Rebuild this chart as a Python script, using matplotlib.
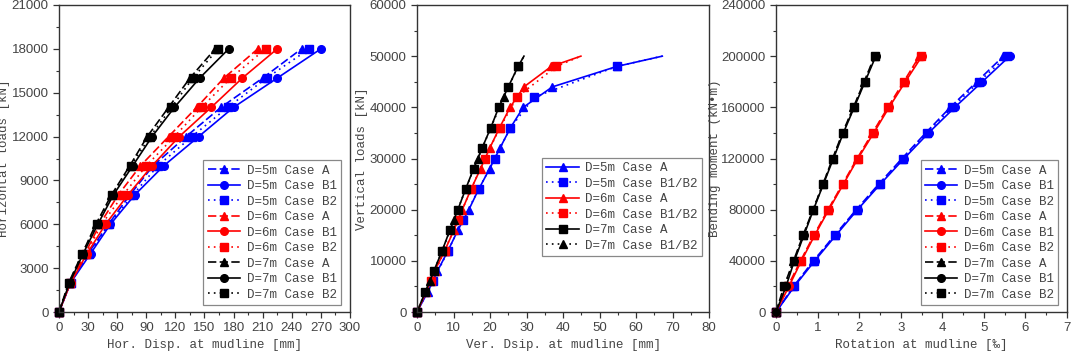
import matplotlib.pyplot as plt
from matplotlib.ticker import MultipleLocator

# ---- panel 1: horizontal loads vs horizontal displacement ----
h_loads = [0, 2000, 4000, 6000, 8000, 10000, 12000, 14000, 16000, 18000]
h_5m_a = [0, 12, 30, 51, 73, 97, 131, 167, 210, 250]
h_5m_b1 = [0, 12, 32.6, 53, 78, 108, 144, 180, 225, 270]
h_5m_b2 = [0, 12, 31, 52, 76, 102, 137, 174, 214, 258]
h_6m_a = [0, 11, 27, 42, 61, 84, 113, 142, 170, 205]
h_6m_b1 = [0, 12, 29, 48, 71, 96, 124, 157, 189, 225]
h_6m_b2 = [0, 11.5, 28, 44, 66, 90, 119, 147, 177, 213]
h_7m_a = [0, 10, 24, 38, 54, 73, 91, 113, 135, 161]
h_7m_b1 = [0, 11, 25, 40, 56, 76, 96, 119, 145, 175]
h_7m_b2 = [0, 10.5, 24, 39, 55, 74, 94, 116, 138, 164]

# ---- panel 2: vertical loads vs vertical displacement ----
v_loads_a = [0, 4000, 8000, 12000, 16000, 20000, 24000, 28000, 32000,
             36000, 40000, 44000, 48000, 50000]
v_loads_b = [0, 6000, 12000, 18000, 24000, 30000, 36000, 42000, 48000, 50000]
v_5m_a = [0, 3.0, 5.6, 8.5, 11.2, 14.2, 16.9, 19.9, 22.7, 25.6, 29.1, 37.1, 54.8, 67.2]
v_5m_b = [0, 4.4, 8.5, 12.6, 16.9, 21.3, 25.6, 32.1, 54.8, 67.2]
v_6m_a = [0, 2.6, 4.8, 7.6, 10.1, 12.4, 14.8, 17.4, 19.9, 22.6, 25.5, 29.3, 36.8, 44.9]
v_6m_b = [0, 3.7, 7.6, 11.2, 14.8, 18.6, 22.7, 27.4, 38.2, 44.9]
v_7m_a = [0, 2.3, 4.6, 6.9, 9.0, 11.2, 13.3, 15.5, 17.8, 20.2, 22.4, 25.0, 27.7, 29.3]
v_7m_b = [0, 3.5, 6.9, 10.1, 13.3, 16.7, 20.2, 23.8, 27.7, 29.3]

# ---- panel 3: bending moment vs rotation ----
m_loads = [0, 20000, 40000, 60000, 80000, 100000, 120000, 140000, 160000, 180000, 200000]
r_5m_a = [0, 0.42, 0.90, 1.41, 1.93, 2.47, 3.03, 3.60, 4.19, 4.83, 5.47]
r_5m_b1 = [0, 0.44, 0.93, 1.44, 1.96, 2.51, 3.08, 3.67, 4.30, 4.96, 5.62]
r_5m_b2 = [0, 0.43, 0.91, 1.42, 1.94, 2.49, 3.05, 3.63, 4.24, 4.88, 5.56]
r_6m_a = [0, 0.28, 0.59, 0.91, 1.25, 1.60, 1.95, 2.32, 2.69, 3.07, 3.45]
r_6m_b1 = [0, 0.31, 0.61, 0.93, 1.27, 1.62, 1.97, 2.35, 2.72, 3.11, 3.51]
r_6m_b2 = [0, 0.29, 0.60, 0.92, 1.26, 1.61, 1.96, 2.33, 2.70, 3.09, 3.48]
r_7m_a = [0, 0.19, 0.42, 0.65, 0.89, 1.13, 1.36, 1.60, 1.86, 2.12, 2.37]
r_7m_b1 = [0, 0.24, 0.44, 0.67, 0.90, 1.14, 1.38, 1.62, 1.88, 2.14, 2.40]
r_7m_b2 = [0, 0.20, 0.43, 0.66, 0.89, 1.13, 1.37, 1.61, 1.87, 2.13, 2.38]

BLUE, RED, BLACK = '#0000ff', '#ff0000', '#000000'
DASH = (0, (5, 2))
DOT = (0, (1, 2.5))
LW = 1.2
MS = 5.5

label_font = ['Liberation Mono', 'DejaVu Sans Mono']
tick_font = ['Liberation Sans Narrow', 'Liberation Sans', 'DejaVu Sans']

fig = plt.figure(figsize=(10.72, 3.55), dpi=100)
axes = [fig.add_axes([0.055, 0.121, 0.2715, 0.865]),
        fig.add_axes([0.389, 0.121, 0.2724, 0.865]),
        fig.add_axes([0.7239, 0.121, 0.2715, 0.865])]


def curve(ax, x, y, color, ls, marker, label, skip_last=False, z=2):
    mk = slice(0, len(x) - 1) if skip_last else None
    ax.plot(x, y, color=color, linestyle=ls, marker=marker, markersize=MS,
            linewidth=LW, label=label, markevery=mk, clip_on=False, zorder=z)


# panel 1
ax = axes[0]
curve(ax, h_5m_a, h_loads, BLUE, DASH, '^', 'D=5m Case A')
curve(ax, h_5m_b1, h_loads, BLUE, '-', 'o', 'D=5m Case B1')
curve(ax, h_5m_b2, h_loads, BLUE, DOT, 's', 'D=5m Case B2')
curve(ax, h_6m_a, h_loads, RED, DASH, '^', 'D=6m Case A')
curve(ax, h_6m_b1, h_loads, RED, '-', 'o', 'D=6m Case B1')
curve(ax, h_6m_b2, h_loads, RED, DOT, 's', 'D=6m Case B2')
curve(ax, h_7m_a, h_loads, BLACK, DASH, '^', 'D=7m Case A')
curve(ax, h_7m_b1, h_loads, BLACK, '-', 'o', 'D=7m Case B1')
curve(ax, h_7m_b2, h_loads, BLACK, DOT, 's', 'D=7m Case B2')
ax.set_xlim(0, 300)
ax.set_ylim(0, 21000)
ax.xaxis.set_major_locator(MultipleLocator(30))
ax.xaxis.set_minor_locator(MultipleLocator(15))
ax.yaxis.set_major_locator(MultipleLocator(3000))
ax.yaxis.set_minor_locator(MultipleLocator(1500))
ax.set_xlabel('Hor. Disp. at mudline [mm]')
ax.set_ylabel('Horizontal loads [kN]')
leg_anchor = [(0.969, 0.023)]
ylab_x = [-0.168]

# panel 2
ax = axes[1]
curve(ax, v_5m_a, v_loads_a, BLUE, '-', '^', 'D=5m Case A', True)
curve(ax, v_5m_b, v_loads_b, BLUE, DOT, 's', 'D=5m Case B1/B2', True)
curve(ax, v_6m_a, v_loads_a, RED, '-', '^', 'D=6m Case A', True)
curve(ax, v_6m_b, v_loads_b, RED, DOT, 's', 'D=6m Case B1/B2', True)
curve(ax, v_7m_a, v_loads_a, BLACK, '-', 's', 'D=7m Case A', True)
curve(ax, v_7m_b, v_loads_b, BLACK, DOT, '^', 'D=7m Case B1/B2', True)
ax.set_xlim(0, 80)
ax.set_ylim(0, 60000)
ax.xaxis.set_major_locator(MultipleLocator(10))
ax.xaxis.set_minor_locator(MultipleLocator(5))
ax.yaxis.set_major_locator(MultipleLocator(10000))
ax.yaxis.set_minor_locator(MultipleLocator(5000))
ax.set_xlabel('Ver. Dsip. at mudline [mm]')
ax.set_ylabel('Vertical loads [kN]')
leg_anchor.append((0.976, 0.182))
ylab_x.append(-0.168)

# panel 3 (B1 circles sit on top in the original)
ax = axes[2]
curve(ax, r_5m_a, m_loads, BLUE, DASH, '^', 'D=5m Case A')
curve(ax, r_5m_b1, m_loads, BLUE, '-', 'o', 'D=5m Case B1', z=3)
curve(ax, r_5m_b2, m_loads, BLUE, DOT, 's', 'D=5m Case B2')
curve(ax, r_6m_a, m_loads, RED, DASH, '^', 'D=6m Case A')
curve(ax, r_6m_b1, m_loads, RED, '-', 'o', 'D=6m Case B1', z=3)
curve(ax, r_6m_b2, m_loads, RED, DOT, 's', 'D=6m Case B2')
curve(ax, r_7m_a, m_loads, BLACK, DASH, '^', 'D=7m Case A')
curve(ax, r_7m_b1, m_loads, BLACK, '-', 'o', 'D=7m Case B1', z=3)
curve(ax, r_7m_b2, m_loads, BLACK, DOT, 's', 'D=7m Case B2')
ax.set_xlim(0, 7)
ax.set_ylim(0, 240000)
ax.xaxis.set_major_locator(MultipleLocator(1))
ax.xaxis.set_minor_locator(MultipleLocator(0.5))
ax.yaxis.set_major_locator(MultipleLocator(40000))
ax.yaxis.set_minor_locator(MultipleLocator(20000))
ax.set_xlabel('Rotation at mudline [‰]')
ax.set_ylabel('Bending moment (kN•m)')
leg_anchor.append((0.969, 0.023))
ylab_x.append(-0.19)

for ax, anchor, lx in zip(axes, leg_anchor, ylab_x):
    for sp in ax.spines.values():
        sp.set_color('#333333')
        sp.set_linewidth(1.0)
    ax.tick_params(which='major', direction='out', length=4, width=0.9,
                   colors='#333333', labelsize=9.5)
    ax.tick_params(which='minor', direction='out', length=2, width=0.8,
                   colors='#333333')
    for lab in ax.get_xticklabels() + ax.get_yticklabels():
        lab.set_family(tick_font)
        lab.set_color('#444444')
    for lab in (ax.xaxis.label, ax.yaxis.label):
        lab.set_family(label_font)
        lab.set_size(9)
        lab.set_color('#444444')
    ax.xaxis.labelpad = 3
    ax.yaxis.set_label_coords(lx, 0.5)
    leg = ax.legend(loc='lower right', bbox_to_anchor=anchor, borderaxespad=0,
                    prop={'family': label_font, 'size': 9}, fancybox=False,
                    edgecolor='#888888', framealpha=1, handlelength=2.6,
                    labelspacing=0.28, borderpad=0.35, handletextpad=0.5,
                    numpoints=1)
    leg.set_zorder(5)
    leg.get_frame().set_linewidth(0.9)
    for t in leg.get_texts():
        t.set_color('#444444')

fig.savefig('out.png', dpi=100)
